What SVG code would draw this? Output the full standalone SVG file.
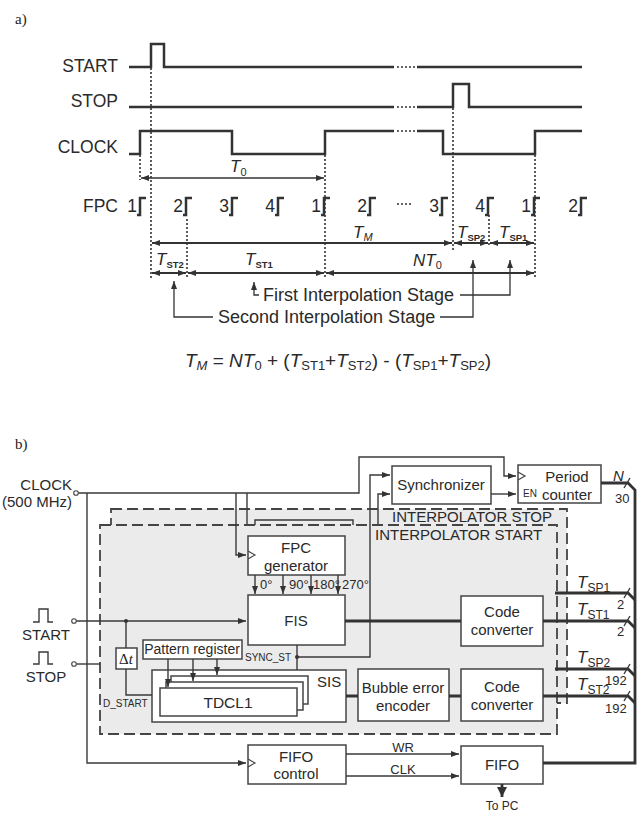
<svg xmlns="http://www.w3.org/2000/svg" width="644" height="815" viewBox="0 0 644 815">
<defs>
<style>
text{font-family:"Liberation Sans",Arial,sans-serif;fill:#2a2a2a}
.serif{font-family:"Liberation Serif","Times New Roman",serif;fill:#222}
.lbl{font-size:17.5px}
.ti{font-style:italic}
.sig{stroke:#333;stroke-width:2.5;fill:none}
.dot{stroke:#333;stroke-width:1.6;stroke-dasharray:2 2;fill:none}
.arr{stroke:#333;stroke-width:2;fill:none}
.thin{stroke:#333;stroke-width:1.3;fill:none}
.ln{stroke:#3a3a3a;stroke-width:1.4;fill:none}
.bus{stroke:#333;stroke-width:2.8;fill:none}
.box{fill:#fff;stroke:#444;stroke-width:1.5}
.clk{fill:none;stroke:#444;stroke-width:1.2}
.dash{stroke:#444;stroke-width:1.8;stroke-dasharray:11 5;fill:#ebebeb}
.t15{font-size:15px}
.t13{font-size:13px}
.t10{font-size:10px}
.mid{text-anchor:middle}
.end{text-anchor:end}
</style>
<marker id="ah" viewBox="0 0 8 6" refX="8" refY="3" markerWidth="8" markerHeight="6" markerUnits="userSpaceOnUse" orient="auto-start-reverse"><path d="M0,0 L8,3 L0,6 z" fill="#333"/></marker>
<marker id="ahb" viewBox="0 0 10 10" refX="10" refY="5" markerWidth="10" markerHeight="10" markerUnits="userSpaceOnUse" orient="auto"><path d="M0,0 L10,5 L0,10 z" fill="#333"/></marker>
</defs>

<!-- ===== a) timing diagram ===== -->
<text class="serif" x="15" y="24" font-size="15">a)</text>

<g id="signal-labels" class="lbl">
<text class="end" x="118" y="72">START</text>
<text class="end" x="118" y="107">STOP</text>
<text class="end" x="118" y="153">CLOCK</text>
<text class="end" x="118" y="212">FPC</text>
</g>

<g id="signals">
<path class="sig" d="M129,67 H151 V44 H164 V67 H394 M417,67 H582"/>
<path class="dot" d="M397,67 H415"/>
<path class="sig" d="M129,107 H394 M417,107 H453 V84 H469 V107 H582"/>
<path class="dot" d="M397,107 H415"/>
<path class="sig" d="M129,154 H140 V131 H232 V154 H325 V131 H394 M417,131 H443 V154 H535 V131 H582"/>
<path class="dot" d="M397,131 H415"/>
</g>

<g id="fpc-row">
<g class="lbl">
<text class="end" x="137" y="212">1</text>
<text class="end" x="183" y="212">2</text>
<text class="end" x="229" y="212">3</text>
<text class="end" x="275" y="212">4</text>
<text class="end" x="321" y="212">1</text>
<text class="end" x="367" y="212">2</text>
<text class="end" x="439" y="212">3</text>
<text class="end" x="485" y="212">4</text>
<text class="end" x="531" y="212">1</text>
<text class="end" x="578" y="212">2</text>
</g>
<path class="sig" d="M137,215 H140 V198 H146 M183,215 H186 V198 H192 M229,215 H232 V198 H238 M275,215 H278 V198 H284 M321,215 H324 V198 H330 M367,215 H370 V198 H376 M439,215 H442 V198 H448 M485,215 H488 V198 H494 M531,215 H534 V198 H540 M578,215 H581 V198 H587"/>
<path class="dot" d="M397,204 H413"/>
</g>

<g id="dotted-guides">
<path class="dot" d="M151,68 V278 M140,155 V180 M325,155 V278 M187,219 V278 M453,108 V250 M489,215 V247 M535,155 V278"/>
</g>

<g id="intervals">
<path class="thin" d="M141,178 H324" marker-start="url(#ah)" marker-end="url(#ah)"/>
<path class="arr" d="M152,243 H452" marker-start="url(#ah)" marker-end="url(#ah)"/>
<path class="arr" d="M454,243 H488" marker-start="url(#ah)" marker-end="url(#ah)"/>
<path class="arr" d="M490,243 H534" marker-start="url(#ah)" marker-end="url(#ah)"/>
<path class="arr" d="M152,273 H186" marker-start="url(#ah)" marker-end="url(#ah)"/>
<path class="arr" d="M188,273 H324" marker-start="url(#ah)" marker-end="url(#ah)"/>
<path class="arr" d="M326,273 H534" marker-start="url(#ah)" marker-end="url(#ah)"/>
<text x="230" y="172" font-size="17"><tspan class="ti">T</tspan><tspan font-size="11" dy="4">0</tspan></text>
<text x="353" y="238" font-size="17"><tspan class="ti">T</tspan><tspan class="ti" font-size="11" dy="3">M</tspan></text>
<text x="457" y="238" font-size="17"><tspan class="ti">T</tspan><tspan font-size="9.5" font-weight="bold" dy="3">SP2</tspan></text>
<text x="499" y="238" font-size="17"><tspan class="ti">T</tspan><tspan font-size="9.5" font-weight="bold" dy="3">SP1</tspan></text>
<text x="156" y="265" font-size="17"><tspan class="ti">T</tspan><tspan font-size="9.5" font-weight="bold" dy="3">ST2</tspan></text>
<text x="245" y="265" font-size="17"><tspan class="ti">T</tspan><tspan font-size="9.5" font-weight="bold" dy="3">ST1</tspan></text>
<text x="413" y="266" font-size="17"><tspan class="ti">NT</tspan><tspan font-size="11" dy="3">0</tspan></text>
</g>

<g id="stage-pointers">
<text x="263" y="301" font-size="18">First Interpolation Stage</text>
<text x="218" y="323" font-size="18">Second Interpolation Stage</text>
<path class="thin" d="M259,295 H254 V282" marker-end="url(#ah)"/>
<path class="thin" d="M460,295 H510 V260" marker-end="url(#ah)"/>
<path class="thin" d="M213,317 H174 V281" marker-end="url(#ah)"/>
<path class="thin" d="M440,317 H473 V260" marker-end="url(#ah)"/>
</g>

<text id="formula" x="185" y="367" font-size="19"><tspan class="ti">T</tspan><tspan class="ti" font-size="13" dy="3">M</tspan><tspan dy="-3"> = </tspan><tspan class="ti">NT</tspan><tspan font-size="13" dy="3">0</tspan><tspan dy="-3"> + (</tspan><tspan class="ti">T</tspan><tspan font-size="13" dy="3">ST1</tspan><tspan dy="-3">+</tspan><tspan class="ti">T</tspan><tspan font-size="13" dy="3">ST2</tspan><tspan dy="-3">) - (</tspan><tspan class="ti">T</tspan><tspan font-size="13" dy="3">SP1</tspan><tspan dy="-3">+</tspan><tspan class="ti">T</tspan><tspan font-size="13" dy="3">SP2</tspan><tspan dy="-3">)</tspan></text>

<!-- ===== b) block diagram ===== -->
<text class="serif" x="15" y="449" font-size="15">b)</text>

<g id="interpolator-stop">
<rect class="dash" x="111" y="509" width="456" height="194"/>
</g>
<g id="connectors-behind">
<path class="ln" d="M247,493 V540"/>
<path class="ln" d="M255,530 V520 H353 V530"/>
<path class="ln" d="M378,540 V494 H390" marker-end="url(#ah)"/>
</g>
<g id="interpolator-start">
<rect class="dash" x="100" y="525" width="457" height="209"/>
<text class="t15" x="392" y="522">INTERPOLATOR STOP</text>
<text class="t15" x="375" y="540">INTERPOLATOR START</text>
</g>

<g id="clock-in">
<text class="t15 end" x="72" y="490">CLOCK</text>
<text class="t15 end" x="72" y="507">(500 MHz)</text>
<circle cx="76" cy="493" r="2.3" fill="#fff" stroke="#444" stroke-width="1.1"/>
</g>
<g id="start-in">
<path class="ln" d="M33,622 H39 V609 H48 V622 H53"/>
<text class="t15 mid" x="46" y="640">START</text>
<circle cx="74" cy="621" r="2.3" fill="#fff" stroke="#444" stroke-width="1.1"/>
</g>
<g id="stop-in">
<path class="ln" d="M33,664 H39 V652 H48 V664 H53"/>
<text class="t15 mid" x="46" y="682">STOP</text>
<circle cx="74" cy="664" r="2.3" fill="#fff" stroke="#444" stroke-width="1.1"/>
</g>

<g id="synchronizer">
<rect class="box" x="392" y="466" width="99" height="38"/>
<text class="t15 mid" x="441" y="490">Synchronizer</text>
</g>
<g id="period-counter">
<rect class="box" x="518" y="465" width="83" height="38"/>
<path class="clk" d="M518,472 L525,476 L518,480"/>
<text class="t15 mid" x="567" y="482">Period</text>
<text class="t15 mid" x="567" y="500">counter</text>
<text class="t10" x="523" y="497">EN</text>
</g>
<g id="fpc-generator">
<rect class="box" x="248" y="536" width="97" height="39"/>
<path class="clk" d="M248,551 L255,555 L248,559"/>
<text class="t15 mid" x="296" y="553">FPC</text>
<text class="t15 mid" x="296" y="571">generator</text>
</g>
<g id="fis">
<rect class="box" x="248" y="595" width="97" height="50"/>
<text class="t15 mid" x="296" y="626">FIS</text>
</g>
<g id="delta-t">
<rect class="box" x="116" y="648" width="21" height="21"/>
<text class="serif mid" x="126" y="664" font-size="15">Δ<tspan font-style="italic">t</tspan></text>
</g>
<g id="pattern-register">
<rect class="box" x="143" y="640" width="99" height="19"/>
<text class="mid" x="192" y="654" font-size="14">Pattern register</text>
</g>
<g id="sis">
<rect class="box" x="152" y="670" width="194" height="52"/>
<text class="t15" x="317" y="687">SIS</text>
</g>
<g id="tdcl">
<rect class="box" x="171" y="676" width="137" height="28"/>
<rect class="box" x="166" y="682" width="137" height="28"/>
<rect class="box" x="160" y="688" width="137" height="28"/>
<text class="mid" x="228" y="708" font-size="15.5">TDCL1</text>
</g>
<g id="bubble-encoder">
<rect class="box" x="358" y="669" width="91" height="52"/>
<text class="t15 mid" x="403" y="693">Bubble error</text>
<text class="t15 mid" x="403" y="711">encoder</text>
</g>
<g id="code-converter-1">
<rect class="box" x="461" y="596" width="82" height="50"/>
<text class="t15 mid" x="502" y="617">Code</text>
<text class="t15 mid" x="502" y="635">converter</text>
</g>
<g id="code-converter-2">
<rect class="box" x="461" y="669" width="82" height="52"/>
<text class="t15 mid" x="502" y="692">Code</text>
<text class="t15 mid" x="502" y="710">converter</text>
</g>
<g id="fifo-control">
<rect class="box" x="248" y="745" width="98" height="39"/>
<path class="clk" d="M248,759 L255,763 L248,767"/>
<text class="t15 mid" x="296" y="762">FIFO</text>
<text class="t15 mid" x="296" y="779">control</text>
</g>
<g id="fifo">
<rect class="box" x="461" y="746" width="82" height="38"/>
<text class="t15 mid" x="502" y="770">FIFO</text>
</g>

<g id="connectors">
<path class="ln" d="M78.5,493 H359 V457 H504 V476 H516" marker-end="url(#ah)"/>
<path class="ln" d="M87,493 V763 H246" marker-end="url(#ah)"/>
<path class="ln" d="M236,493 V555 H246" marker-end="url(#ah)"/>
<path class="ln" d="M297,645 V670 M297,657 H370 V475 H390" marker-end="url(#ah)"/>
<circle cx="297" cy="657" r="2" fill="#333"/>
<path class="ln" d="M491,494 H516" marker-end="url(#ah)"/>
<path class="ln" d="M255,575 V594" marker-end="url(#ah)"/>
<path class="ln" d="M283,575 V594" marker-end="url(#ah)"/>
<path class="ln" d="M311,575 V594" marker-end="url(#ah)"/>
<path class="ln" d="M338,575 V594" marker-end="url(#ah)"/>
<path class="ln" d="M76.5,621 H246" marker-end="url(#ah)"/>
<circle cx="126" cy="621" r="2" fill="#333"/>
<path class="ln" d="M126,621 V648 M126,669 V695 H152"/>
<path class="ln" d="M76.5,664 H100"/>
<path class="ln" d="M168,659 V687" marker-end="url(#ah)"/>
<path class="ln" d="M193,659 V681" marker-end="url(#ah)"/>
<path class="ln" d="M217,659 V675" marker-end="url(#ah)"/>
<path class="bus" d="M345,621 H461 M346,696 H358 M449,696 H461"/>
<path class="bus" d="M601,483 H628 L635,490 V763 H543"/>
<path class="bus" d="M555,593 H628 L635,600 M543,621 H628 L635,628 M555,669 H628 L635,676 M543,696 H628 L635,703"/>
<path class="ln" stroke-width="1.6" d="M624,488 L630,478 M624,598 L630,588 M624,626 L630,616 M624,674 L630,664 M624,701 L630,691"/>
<path class="ln" d="M346,754 H459" marker-end="url(#ah)"/>
<path class="ln" d="M346,776 H459" marker-end="url(#ah)"/>
<path class="bus" d="M502,784 V797" marker-end="url(#ahb)"/>
<text class="t10" x="245" y="661">SYNC_ST</text>
<text class="t10" x="103" y="707">D_START</text>
<text class="t13" x="260" y="589">0°</text>
<text class="t13" x="289" y="589">90°</text>
<text class="t13" x="313" y="589">180°</text>
<text class="t13" x="342" y="589">270°</text>
<text class="t13 mid" x="403" y="752">WR</text>
<text class="t13 mid" x="403" y="774">CLK</text>
<text class="mid" x="502" y="810" font-size="12">To PC</text>
<text x="613" y="481" font-size="15" class="ti">N</text>
<text class="t13" x="615" y="503">30</text>
<text x="577" y="588" font-size="17"><tspan class="ti">T</tspan><tspan font-size="12" dy="4">SP1</tspan></text>
<text x="577" y="615" font-size="17"><tspan class="ti">T</tspan><tspan font-size="12" dy="4">ST1</tspan></text>
<text x="577" y="663" font-size="17"><tspan class="ti">T</tspan><tspan font-size="12" dy="4">SP2</tspan></text>
<text x="577" y="690" font-size="17"><tspan class="ti">T</tspan><tspan font-size="12" dy="4">ST2</tspan></text>
<text class="t13" x="617" y="609">2</text>
<text class="t13" x="617" y="636">2</text>
<text class="t13" x="605" y="685">192</text>
<text class="t13" x="605" y="713">192</text>
</g>
</svg>
